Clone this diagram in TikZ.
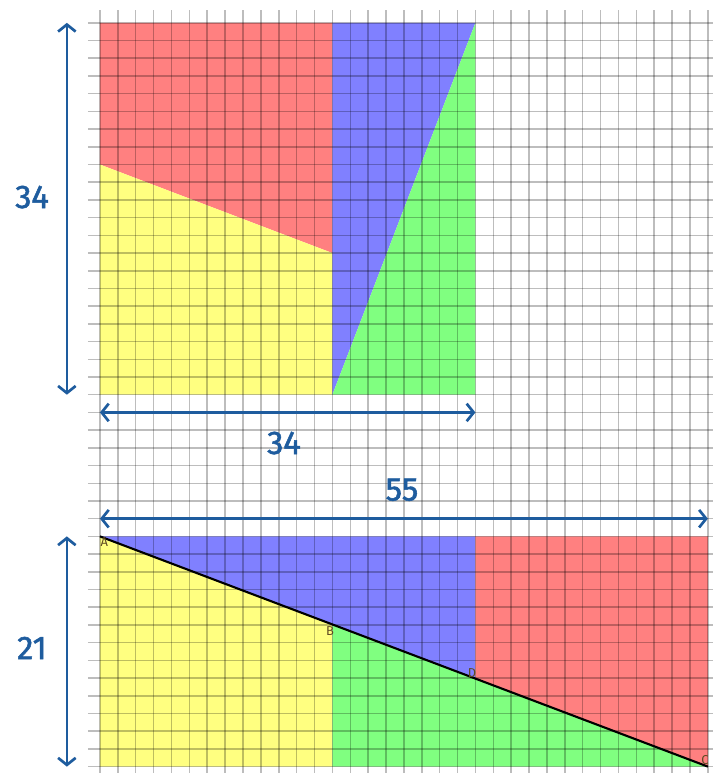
\documentclass[tikz,border=0pt]{standalone}
\usepackage{fontspec}
\setmainfont{Fira Sans}
\newfontfamily\numfont{Fira Sans}[FakeBold=1.6]
\usetikzlibrary{arrows.meta, calc}
\definecolor{dimblue}{RGB}{30,92,158}
\definecolor{sqred}{RGB}{255,128,128}
\definecolor{sqblue}{RGB}{128,128,255}
\definecolor{sqgreen}{RGB}{128,255,128}
\definecolor{sqyellow}{RGB}{255,255,128}
\definecolor{ptbrown}{RGB}{95,75,35}

\begin{document}
\begin{tikzpicture}[x=0.5364cm, y=0.5313cm,
    dim/.style={dimblue, line width=2.3pt, {Straight Barb[length=6pt,width=15pt]}-{Straight Barb[length=6pt,width=15pt]}},
    num/.style={text=dimblue, font=\numfont\fontsize{28}{32}\selectfont},
    ptlabel/.style={text=ptbrown, font=\fontsize{11}{13}\selectfont, inner sep=0pt},
    gridline/.style={black, opacity=0.26, line width=1.3pt}]
    \useasboundingbox (-5.59,-0.36) rectangle (34.28,43.29);
    % the 21 by 21 square
    \fill[sqred] (0,34) -- (13,29) -- (13,42) -- (0,42) -- cycle;
    \fill[sqyellow] (0,21) -- (13,21) -- (13,29) -- (0,34) -- cycle;
    \fill[sqblue] (13,21) -- (13,42) -- (21,42) -- cycle;
    \fill[sqgreen] (13,21) -- (21,42) -- (21,21) -- cycle;
    % the 34 by 13 rectangle
    \coordinate (A) at (0,13);
    \coordinate (C) at (34,0);
    \coordinate (B) at ($(A)!13/34!(C)$);
    \coordinate (D) at ($(A)!21/34!(C)$);
    \fill[sqyellow] (0,0) -- (13,0) -- (B) -- (A) -- cycle;
    \fill[sqblue] (A) -- (21,13) -- (D) -- cycle;
    \fill[sqgreen] (13,0) -- (C) -- (B) -- cycle;
    \fill[sqred] (21,13) -- (34,13) -- (C) -- (D) -- cycle;
    % grid paper
    \foreach \i in {0,...,34}
        \draw[gridline] (\i,-0.4) -- (\i,42.73);
    \foreach \j in {0,...,42}
        \draw[gridline] (-0.67,\j) -- (34.3,\j);
    \draw[black, line width=1.8pt] (A) -- (C);
    \node[ptlabel, anchor=north west] (lA) at ($(A)+(0.02,-0.05)$) {A};
    \node[ptlabel, anchor=north east] (lB) at ($(B)+(0.1,-0.1)$) {B};
    \node[ptlabel, anchor=south east] (lD) at ($(D)+(0.05,0.05)$) {D};
    \node[ptlabel, anchor=south east] (lC) at ($(C)+(0.05,0.1)$) {C};
    % dimensions
    \coordinate (sqtop) at (-1.85,42);
    \coordinate (sqbot) at (-1.85,21);
    \coordinate (sqleft) at (0,20);
    \coordinate (sqright) at (21,20);
    \coordinate (releft) at (0,14);
    \coordinate (reright) at (34,14);
    \coordinate (retop) at (-1.85,13);
    \coordinate (rebot) at (-1.85,0);
    \draw[dim] (sqtop) -- (sqbot);
    \draw[dim] (sqleft) -- (sqright);
    \draw[dim] (releft) -- (reright);
    \draw[dim] (retop) -- (rebot);
    \node[num] (hsq) at (-3.8,32.16) {34};
    \node[num] (wsq) at (10.29,18.27) {34};
    \node[num] (wre) at (16.89,15.63) {55};
    \node[num] (hre) at (-3.8,6.7) {21};
\end{tikzpicture}
\end{document}
